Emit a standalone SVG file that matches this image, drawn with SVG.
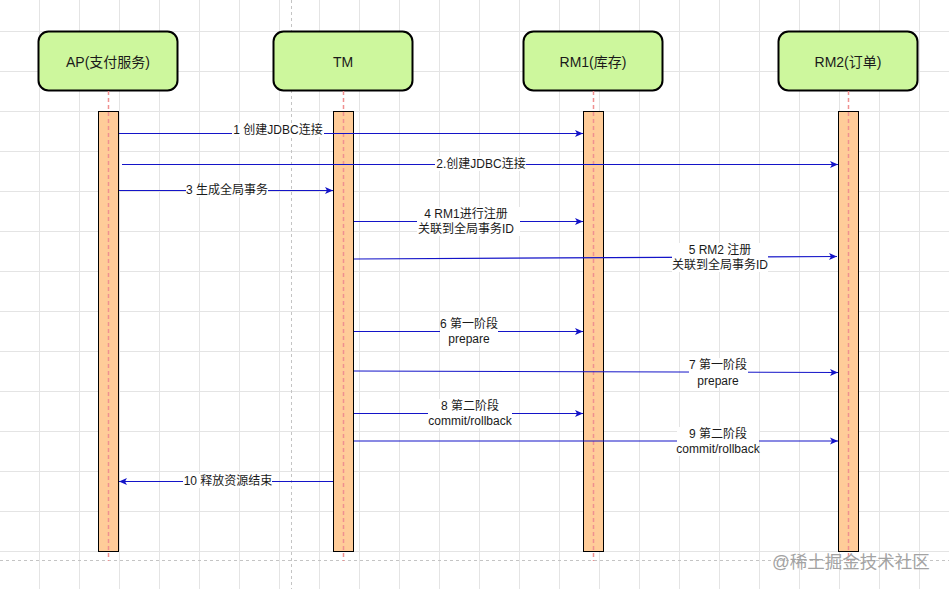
<svg xmlns="http://www.w3.org/2000/svg" width="949" height="589" viewBox="0 0 949 589">
  <style>
    .box { fill: #cdf79d; stroke: #000; stroke-width: 2; }
    .box-text { font-family: "Liberation Sans", "Noto Sans CJK SC", sans-serif; font-size: 14px; fill: #1a1a1a; text-anchor: middle; }
    .bar { fill: #ffcc99; stroke: #000; stroke-width: 1; }
    .life { stroke: #f09090; stroke-width: 1.5; stroke-dasharray: 4 3; fill: none; }
    .msg { stroke: #1414c8; stroke-width: 1.2; fill: none; marker-end: url(#arrow); }
    .lbl-bg { fill: #fff; }
    .lbl { font-family: "Liberation Sans", "Noto Sans CJK SC", sans-serif; font-size: 12px; fill: #1a1a1a; text-anchor: middle; }
    .page { stroke: #c4c4c4; stroke-width: 1; stroke-dasharray: 3 3; fill: none; }
  </style>
  <defs>
    <pattern id="grid" width="40" height="40" patternUnits="userSpaceOnUse" x="39" y="31">
      <path d="M0,0.5 H40 M0.5,0 V40" stroke="#e4e4e4" stroke-width="1" fill="none"/>
    </pattern>
    <marker id="arrow" markerUnits="userSpaceOnUse" markerWidth="10" markerHeight="10" refX="8" refY="4" orient="auto">
      <path d="M0,0.5 L8,4 L0,7.5 L2,4 z" fill="#1414c8"/>
    </marker>
  </defs>

  <!-- canvas background and grid -->
  <rect width="949" height="589" fill="#fff"/>
  <rect width="949" height="589" fill="url(#grid)"/>
  <path class="page" d="M291.5,0 V589 M0,560.5 H949"/>

  <!-- participants -->
  <g id="node-ap">
    <rect class="box" x="38.5" y="31.5" width="139" height="59" rx="10"/>
    <text class="box-text" x="108" y="66.5">AP(支付服务)</text>
    <rect class="bar" x="98.5" y="111.5" width="20" height="440"/>
    <path class="life" d="M108.5,91 V561"/>
  </g>
  <g id="node-tm">
    <rect class="box" x="273.5" y="31.5" width="139" height="59" rx="10"/>
    <text class="box-text" x="343" y="66.5">TM</text>
    <rect class="bar" x="333.5" y="111.5" width="20" height="440"/>
    <path class="life" d="M343.5,91 V561"/>
  </g>
  <g id="node-rm1">
    <rect class="box" x="523.5" y="31.5" width="139" height="59" rx="10"/>
    <text class="box-text" x="593" y="66.5">RM1(库存)</text>
    <rect class="bar" x="583.5" y="111.5" width="20" height="440"/>
    <path class="life" d="M593.5,91 V561"/>
  </g>
  <g id="node-rm2">
    <rect class="box" x="778.5" y="31.5" width="139" height="59" rx="10"/>
    <text class="box-text" x="848" y="66.5">RM2(订单)</text>
    <rect class="bar" x="838.5" y="111.5" width="20" height="440"/>
    <path class="life" d="M848.5,91 V561"/>
  </g>

  <!-- messages -->
  <g id="connectors">
    <g id="msg-1">
      <path class="msg" d="M119,133.5 H583"/>
      <rect class="lbl-bg" x="232" y="123" width="92" height="14"/>
      <text class="lbl" x="278" y="134">1 创建JDBC连接</text>
    </g>
    <g id="msg-2">
      <path class="msg" d="M122,164.5 H838"/>
      <rect class="lbl-bg" x="435" y="157" width="91" height="14"/>
      <text class="lbl" x="481" y="167.5">2.创建JDBC连接</text>
    </g>
    <g id="msg-3">
      <path class="msg" d="M119,190.5 H333"/>
      <rect class="lbl-bg" x="186" y="183" width="82" height="14"/>
      <text class="lbl" x="227" y="194">3 生成全局事务</text>
    </g>
    <g id="msg-4">
      <path class="msg" d="M354,221.5 H583"/>
      <rect class="lbl-bg" x="417" y="207" width="103" height="29"/>
      <text class="lbl" x="466" y="218">4 RM1进行注册</text>
      <text class="lbl" x="466" y="232.5">关联到全局事务ID</text>
    </g>
    <g id="msg-5">
      <path class="msg" d="M354,259 L837,256.5"/>
      <rect class="lbl-bg" x="672" y="243" width="96" height="29"/>
      <text class="lbl" x="720" y="253.5">5 RM2 注册</text>
      <text class="lbl" x="720" y="269">关联到全局事务ID</text>
    </g>
    <g id="msg-6">
      <path class="msg" d="M354,331.5 H583"/>
      <rect class="lbl-bg" x="440" y="317" width="58" height="29"/>
      <text class="lbl" x="469" y="327.5">6 第一阶段</text>
      <text class="lbl" x="469" y="343">prepare</text>
    </g>
    <g id="msg-7">
      <path class="msg" d="M354,371 L838,372.5"/>
      <rect class="lbl-bg" x="689" y="358" width="59" height="29"/>
      <text class="lbl" x="718" y="368.5">7 第一阶段</text>
      <text class="lbl" x="718" y="384.5">prepare</text>
    </g>
    <g id="msg-8">
      <path class="msg" d="M354,413.5 H583"/>
      <rect class="lbl-bg" x="428" y="399" width="84" height="29"/>
      <text class="lbl" x="470" y="410">8 第二阶段</text>
      <text class="lbl" x="470" y="425">commit/rollback</text>
    </g>
    <g id="msg-9">
      <path class="msg" d="M354,441 H838"/>
      <rect class="lbl-bg" x="677" y="427" width="82" height="29"/>
      <text class="lbl" x="718" y="437.5">9 第二阶段</text>
      <text class="lbl" x="718" y="453">commit/rollback</text>
    </g>
    <g id="msg-10">
      <path class="msg" d="M333,481.5 H119"/>
      <rect class="lbl-bg" x="183" y="474" width="89" height="14"/>
      <text class="lbl" x="228" y="485">10 释放资源结束</text>
    </g>
  </g>

  <!-- watermark -->
  <text x="851" y="568" font-family="'Liberation Sans', 'Noto Sans CJK SC', sans-serif" font-size="17.5" fill="#a3a3a3" text-anchor="middle">@稀土掘金技术社区</text>
</svg>
